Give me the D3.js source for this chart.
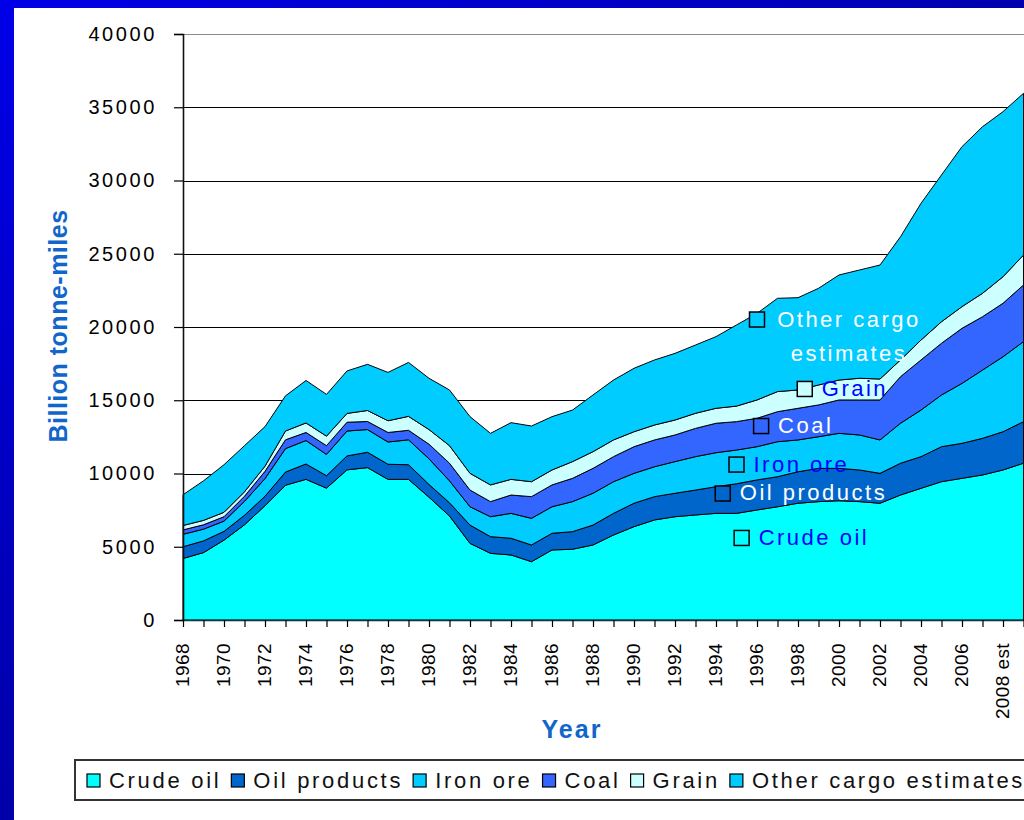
<!DOCTYPE html>
<html>
<head>
<meta charset="utf-8">
<script src="https://cdnjs.cloudflare.com/ajax/libs/d3/7.8.5/d3.min.js"></script>
<style>
  body { margin: 0; background: #fff; }
  text { font-family: "Liberation Sans", Arial, sans-serif; }
</style>
</head>
<body>
<script>
// seaborne trade, billion tonne-miles
const years = [1968, 1969, 1970, 1971, 1972, 1973, 1974, 1975, 1976, 1977,
  1978, 1979, 1980, 1981, 1982, 1983, 1984, 1985, 1986, 1987,
  1988, 1989, 1990, 1991, 1992, 1993, 1994, 1995, 1996, 1997,
  1998, 1999, 2000, 2001, 2002, 2003, 2004, 2005, 2006, 2007,
  2008, 2009];

const crudeOil = [4200, 4600, 5450, 6500, 7800, 9200, 9600, 9000, 10250, 10400,
  9600, 9600, 8380, 7100, 5230, 4550, 4440, 3980, 4780, 4830,
  5120, 5800, 6370, 6830, 7050, 7170, 7280, 7280, 7510, 7730,
  7970, 8080, 8140, 8080, 7970, 8530, 8990, 9440, 9670, 9900,
  10240, 10700];
const oilProducts = [800, 800, 600, 650, 650, 900, 1050, 850, 950, 1050,
  1030, 1000, 870, 900, 1250, 1140, 1140, 1140, 1140, 1200,
  1360, 1480, 1600, 1590, 1600, 1700, 1820, 2020, 2050, 2050,
  2150, 2270, 2210, 2160, 2040, 2170, 2160, 2390, 2390, 2500,
  2610, 2840];
const ironOre = [850, 800, 700, 950, 1200, 1600, 1600, 1450, 1700, 1550,
  1520, 1700, 1750, 1500, 1250, 1360, 1700, 1820, 1810, 2050,
  2170, 2160, 2040, 2040, 2160, 2280, 2320, 2300, 2270, 2390,
  2170, 2160, 2390, 2390, 2280, 2730, 3180, 3530, 4090, 4660,
  5120, 5460];
const coal = [300, 300, 300, 350, 500, 600, 550, 600, 600, 550,
  650, 650, 1000, 1200, 1140, 1030, 1250, 1480, 1490, 1590,
  1700, 1710, 1820, 1830, 1820, 1930, 2010, 1940, 1940, 2050,
  2160, 2170, 2280, 2390, 2730, 3180, 3420, 3530, 3760, 3640,
  3650, 3870];
const grain = [300, 300, 300, 300, 350, 600, 650, 650, 600, 750,
  800, 950, 1000, 1200, 1140, 1140, 1070, 1020, 1020, 1140,
  1140, 1140, 1020, 1020, 1020, 1030, 1020, 1060, 1250, 1370,
  1250, 1360, 1360, 1480, 1430, 1140, 1360, 1470, 1480, 1600,
  1810, 2040];
const otherCargo = [2100, 2700, 3250, 3150, 2700, 2400, 2900, 2850, 2900, 3150,
  3300, 3680, 3500, 3800, 3870, 3520, 3870, 3800, 3640, 3520,
  3870, 4090, 4330, 4440, 4550, 4660, 4890, 5540, 5910, 6370,
  6300, 6600, 7170, 7390, 7780, 8410, 9330, 10020, 10920, 11370,
  11270, 11040];

const seriesNames = ["Crude oil", "Oil products", "Iron ore", "Coal", "Grain", "Other cargo estimates"];
const seriesValues = [crudeOil, oilProducts, ironOre, coal, grain, otherCargo];
const seriesColors = ["#00ffff", "#0066cc", "#00ccff", "#3366ff", "#ccffff", "#00ccff"];

const xTickYears = [1968, 1970, 1972, 1974, 1976, 1978, 1980, 1982, 1984, 1986, 1988,
  1990, 1992, 1994, 1996, 1998, 2000, 2002, 2004, 2006, 2008];
const xTickLabels = ["1968", "1970", "1972", "1974", "1976", "1978", "1980", "1982", "1984", "1986", "1988",
  "1990", "1992", "1994", "1996", "1998", "2000", "2002", "2004", "2006", "2008 est"];
const yTicks = [0, 5000, 10000, 15000, 20000, 25000, 30000, 35000, 40000];

// labels written inside the areas (anchor in data units)
const areaLabels = [
  { name: "Other cargo estimates", lines: ["Other cargo", "estimates"], year: 1996, value: 20510, fill: "#ffffff" },
  { name: "Grain", lines: ["Grain"], year: 1998.33, value: 15770, fill: "#0000ff" },
  { name: "Coal", lines: ["Coal"], year: 1996.2, value: 13240, fill: "#ffffff" },
  { name: "Iron ore", lines: ["Iron ore"], year: 1995.0, value: 10610, fill: "#0000ff" },
  { name: "Oil products", lines: ["Oil products"], year: 1994.33, value: 8635, fill: "#ffffff" },
  { name: "Crude oil", lines: ["Crude oil"], year: 1995.25, value: 5600, fill: "#0000ff" }
];

const W = 1024, H = 820;
const plotLeft = 183, plotRight = 1023.5, plotTop = 34, plotBottom = 620;

const svg = d3.select("body").append("svg")
    .attr("width", W)
    .attr("height", H);

// blue slide frame
const defs = svg.append("defs");
const gLeft = defs.append("linearGradient").attr("id", "frameLeft")
    .attr("x1", 0).attr("y1", 0).attr("x2", 0).attr("y2", 1);
gLeft.append("stop").attr("offset", "0%").attr("stop-color", "#0000e8");
gLeft.append("stop").attr("offset", "100%").attr("stop-color", "#0000a8");
const gTop = defs.append("linearGradient").attr("id", "frameTop")
    .attr("x1", 0).attr("y1", 0).attr("x2", 1).attr("y2", 0);
gTop.append("stop").attr("offset", "0%").attr("stop-color", "#0000e6");
gTop.append("stop").attr("offset", "100%").attr("stop-color", "#0000b0");

svg.append("rect").attr("width", W).attr("height", H).attr("fill", "#ffffff");
svg.append("rect").attr("x", 0).attr("y", 0).attr("width", W).attr("height", 8).attr("fill", "url(#frameTop)");
svg.append("rect").attr("x", 0).attr("y", 0).attr("width", 14).attr("height", H).attr("fill", "url(#frameLeft)");

const x = d3.scaleLinear().domain([1968, 2009]).range([plotLeft, plotRight]);
const y = d3.scaleLinear().domain([0, 40000]).range([plotBottom, plotTop]);

// gridlines
svg.append("g").selectAll("line")
  .data(yTicks.filter(d => d > 0))
  .enter().append("line")
    .attr("x1", plotLeft).attr("x2", W)
    .attr("y1", d => Math.round(y(d)) + 0.5)
    .attr("y2", d => Math.round(y(d)) + 0.5)
    .attr("stroke", d => d === 40000 ? "#8a8a8a" : "#000")
    .attr("stroke-width", 1);

// stacked areas
const table = years.map(function(yr, i) {
  const row = { year: yr };
  seriesNames.forEach(function(name, k) { row[name] = seriesValues[k][i]; });
  return row;
});
const stacked = d3.stack().keys(seriesNames)(table);

const area = d3.area()
    .x(d => x(d.data.year))
    .y0(d => y(d[0]))
    .y1(d => y(d[1]));

svg.append("g").selectAll("path")
  .data(stacked)
  .enter().append("path")
    .attr("d", area)
    .attr("fill", (d, i) => seriesColors[i])
    .attr("stroke", "#000")
    .attr("stroke-width", 1)
    .attr("stroke-linejoin", "round");

// axes
const yAxis = svg.append("g")
    .attr("transform", "translate(" + plotLeft + ",0)")
    .call(d3.axisLeft(y).tickValues(yTicks).tickSize(9).tickPadding(17).tickFormat(d3.format("d")));
yAxis.select(".domain").attr("stroke", "#111").attr("stroke-width", 1.6);
yAxis.selectAll(".tick line").attr("stroke", "#000").attr("stroke-width", 1.2);
yAxis.selectAll("text")
    .style("font-family", "'Liberation Sans', Arial, sans-serif")
    .style("font-size", "20px")
    .style("letter-spacing", "2.6px")
    .attr("fill", "#000");

const labelOf = new Map(xTickYears.map((yr, i) => [yr, xTickLabels[i]]));
const xAxis = svg.append("g")
    .attr("transform", "translate(0," + plotBottom + ")")
    .call(d3.axisBottom(x).tickValues(years).tickSize(7).tickSizeOuter(0)
      .tickFormat(d => labelOf.get(d) || ""));
xAxis.select(".domain").attr("stroke", "#0a3a3a").attr("stroke-width", 1.6);
xAxis.selectAll(".tick line").attr("stroke", "#000").attr("stroke-width", 1.2);
xAxis.selectAll("text")
    .attr("transform", "rotate(-90)")
    .attr("x", -23)
    .attr("y", 0)
    .attr("dy", "0.28em")
    .style("text-anchor", "end")
    .style("font-family", "'Liberation Sans', Arial, sans-serif")
    .style("font-size", "19px")
    .style("letter-spacing", "0.4px")
    .attr("fill", "#000");

// axis titles
svg.append("text")
    .attr("transform", "translate(67,326) rotate(-90)")
    .attr("text-anchor", "middle")
    .style("font-size", "25px")
    .style("font-weight", "bold")
    .style("letter-spacing", "0.5px")
    .attr("fill", "#1166cc")
    .text("Billion tonne-miles");

svg.append("text")
    .attr("x", 572)
    .attr("y", 738)
    .attr("text-anchor", "middle")
    .style("font-size", "25px")
    .style("font-weight", "bold")
    .style("letter-spacing", "2px")
    .attr("fill", "#1166cc")
    .text("Year");

// labels inside the areas
const lab = svg.append("g").selectAll("g")
  .data(areaLabels)
  .enter().append("g")
    .attr("transform", d => "translate(" + x(d.year) + "," + y(d.value) + ")");
lab.append("rect")
    .attr("x", -7.5).attr("y", -7.5)
    .attr("width", 15).attr("height", 15)
    .attr("fill", d => seriesColors[seriesNames.indexOf(d.name)])
    .attr("stroke", "#000")
    .attr("stroke-width", 1.5);
lab.each(function(d) {
  const g = d3.select(this);
  if (d.lines.length === 1) {
    g.append("text")
        .attr("x", 17).attr("y", 7)
        .style("font-size", "22px")
        .style("letter-spacing", "2.5px")
        .attr("fill", d.fill)
        .text(d.lines[0]);
  } else {
    d.lines.forEach(function(t, i) {
      g.append("text")
          .attr("x", 92).attr("y", 7 + i * 34)
          .attr("text-anchor", "middle")
          .style("font-size", "22px")
          .style("letter-spacing", "2.5px")
          .attr("fill", d.fill)
          .text(t);
    });
  }
});

// legend
const legend = svg.append("g");
legend.append("rect")
    .attr("x", 75).attr("y", 760)
    .attr("width", 980).attr("height", 40)
    .attr("fill", "#fff")
    .attr("stroke", "#333")
    .attr("stroke-width", 2);
let lx = 87;
seriesNames.forEach(function(name, i) {
  legend.append("rect")
      .attr("x", lx).attr("y", 774)
      .attr("width", 13).attr("height", 13)
      .attr("fill", seriesColors[i])
      .attr("stroke", "#000")
      .attr("stroke-width", 1.2);
  const t = legend.append("text")
      .attr("x", lx + 22).attr("y", 788)
      .style("font-size", "22px")
      .style("letter-spacing", "2.7px")
      .attr("fill", "#111")
      .text(name);
  lx += 22 + t.node().getComputedTextLength() + 10;
});
</script>
</body>
</html>
